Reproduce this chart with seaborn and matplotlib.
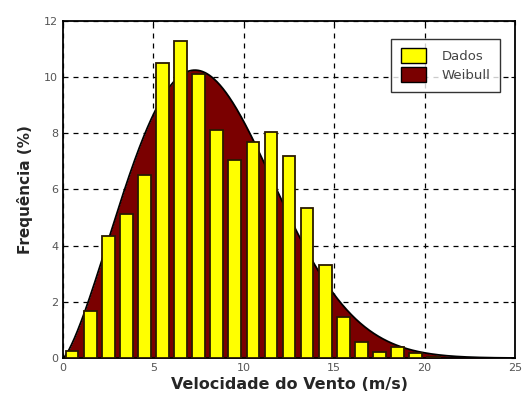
import numpy as np
import pandas as pd
import matplotlib
matplotlib.use("Agg")
import matplotlib.pyplot as plt
from matplotlib.patches import Patch
import seaborn as sns

# Wind-speed histogram (bin centres, m/s) and relative frequency (%)
velocidade = [0.5, 1.5, 2.5, 3.5, 4.5, 5.5, 6.5, 7.5, 8.5, 9.5, 10.5,
              11.5, 12.5, 13.5, 14.5, 15.5, 16.5, 17.5, 18.5, 19.5, 20.5]
frequencia = [0.25, 1.68, 4.34, 5.11, 6.5, 10.5, 11.3, 10.1, 8.1, 7.05, 7.7,
              8.05, 7.2, 5.35, 3.3, 1.45, 0.58, 0.22, 0.4, 0.19, 0.05]

# Fitted Weibull parameters (shape k, scale c in m/s)
weibull_k = 2.32
weibull_c = 9.3

x_ticks = [0, 5, 10, 15, 20, 25]
y_ticks = [0, 2, 4, 6, 8, 10, 12]

sns.set_style("white")
plt.rcParams["font.family"] = ["DejaVu Sans"]

fig = plt.figure(figsize=(5.26, 4.01), dpi=100)
ax = fig.add_axes([0.120, 0.107, 0.859, 0.841])

# Weibull probability density, in percent
v = np.linspace(0, 25, 600)
pdf = (weibull_k / weibull_c) * (v / weibull_c) ** (weibull_k - 1) \
    * np.exp(-(v / weibull_c) ** weibull_k) * 100
curve = pd.DataFrame({"v": v, "pdf": pdf})

ax.fill_between(curve["v"], 0, curve["pdf"], color="#7a0000", zorder=2, lw=0)
sns.lineplot(data=curve, x="v", y="pdf", color="black", lw=1.3, ax=ax, zorder=3)

hist = pd.DataFrame({"v": velocidade, "f": frequencia})
sns.barplot(data=hist, x="v", y="f", native_scale=True, width=0.7,
            color="#ffff00", saturation=1, edgecolor="#2a1a00", linewidth=1.3,
            ax=ax, zorder=4)

ax.set_xlim(0, 25)
ax.set_ylim(0, 12)
ax.set_xticks(x_ticks)
ax.set_yticks(y_ticks)
ax.tick_params(axis="both", labelsize=8, labelcolor="#555555", direction="in",
               length=3, top=True, right=True, color="black")
ax.grid(True, color="black", linestyle=(0, (4, 4)), linewidth=0.9, zorder=1)
ax.set_axisbelow(True)
for s in ax.spines.values():
    s.set_color("black")
    s.set_linewidth(1.3)

ax.set_xlabel("Velocidade do Vento (m/s)", fontsize=11.5, fontweight="bold", labelpad=3)
ax.set_ylabel("Frequência (%)", fontsize=11, fontweight="bold", labelpad=8)

handles = [Patch(facecolor="#ffff00", edgecolor="black", label="Dados"),
           Patch(facecolor="#7a0000", edgecolor="black", label="Weibull")]
leg = ax.legend(handles=handles, loc="upper right", fontsize=9.5,
                frameon=True, fancybox=False, edgecolor="black",
                bbox_to_anchor=(0.972, 0.955), borderpad=0.7,
                handlelength=1.9, handleheight=1.4, handletextpad=1.2,
                labelspacing=0.3, borderaxespad=0.2)
leg.get_frame().set_linewidth(1.0)
for t in leg.get_texts():
    t.set_color("#444444")
leg.set_zorder(6)

fig.savefig("out.png", dpi=100, facecolor="white")
